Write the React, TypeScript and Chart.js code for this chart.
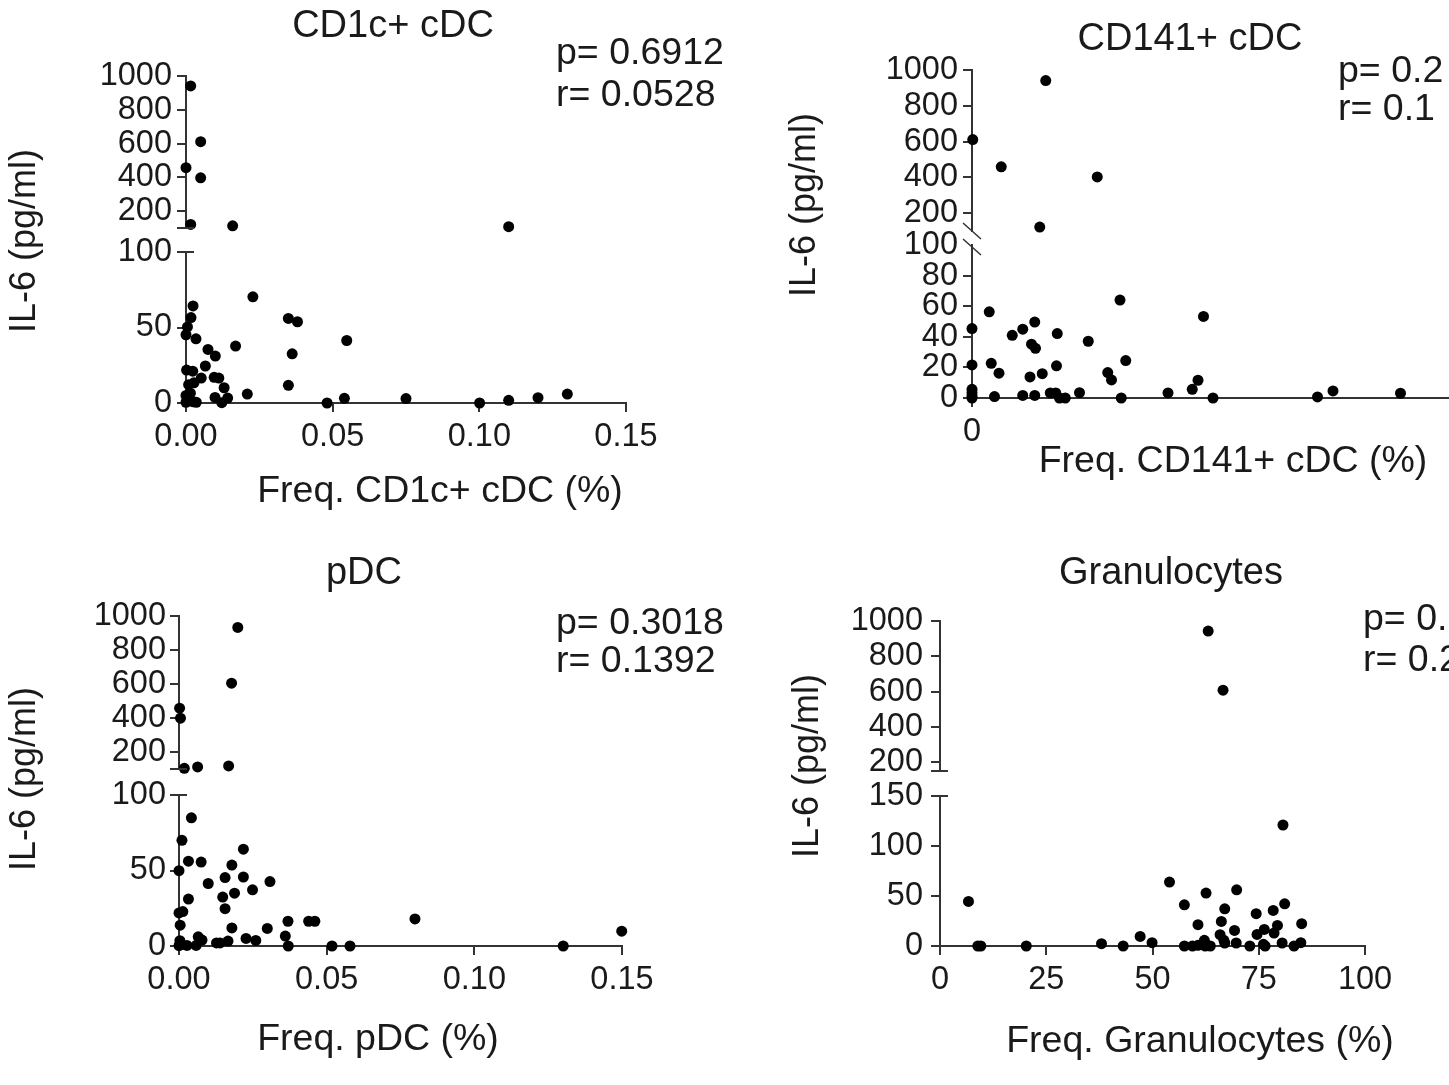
import React, { useEffect, useRef } from 'react';
import { Chart, registerables } from 'chart.js';

Chart.register(...registerables);

const FONT = "'Liberation Sans', Arial, Helvetica, sans-serif";
const INK = '#1a1a1a';
const AXIS = '#333333';

// ---------------- DATA ----------------
// Panel 1: CD1c+ cDC
const cd1cX = [0.0016, 0.005, 0, 0.005, 0.0016, 0.0159, 0.11,
  0.0024, 0.0017, 0.0005, 0, 0.0034, 0.0075, 0.01, 0.0169, 0.0228, 0.0349,
  0.038, 0.0362, 0.0349, 0.0548, 0.0066, 0.0002, 0.0023, 0.0052, 0.0096, 0.0112,
  0.013, 0.0009, 0.0027, 0.0099, 0.0122, 0.0142, 0.0209, 0, 0.0008, 0.0025,
  0.0035, 0, 0.0015, 0.0481, 0.054, 0.075, 0.1001, 0.11, 0.12, 0.13];
const cd1cY = [941, 611, 457, 397, 121, 113, 108,
  64.3, 56.6, 50.4, 45.2, 42.5, 35.5, 31.1, 37.7, 70.3, 56,
  53.8, 32.6, 11.7, 41.4, 24.5, 21.8, 21.1, 16.5, 17, 16.5,
  10.1, 12.1, 13.4, 3.7, 0.2, 3.3, 5.9, 5, 3, 0.8,
  0.5, 0.5, 6.5, 0, 3.1, 2.9, 0, 1.8, 3.5, 5.9];
const cd1cStats = ['p= 0.6912', 'r= 0.0528'];

// Panel 2: CD141+ cDC
const cd141X = [0.00295, 0.00003, 0.00117, 0.00501, 0.00271,
  0, 0, 0, 0, 0, 0, 0.00069, 0.00077, 0.00108, 0.0009,
  0.00161, 0.00203, 0.00251, 0.00238, 0.00254, 0.00232, 0.00281, 0.00203, 0.00251, 0.00341,
  0.00338, 0.00313, 0.00335, 0.0035, 0.00373, 0.0043, 0.00465, 0.00543, 0.00558, 0.00592,
  0.00615, 0.00597, 0.00632, 0.00784, 0.00881, 0.00904, 0.00926, 0.00964, 0.01382, 0.01444,
  0.01714];
const cd141Y = [941, 611, 459, 402, 122,
  45.4, 21.6, 5.7, 3.5, 1.3, 0, 56.3, 22.7, 16.2, 0.9,
  41, 45, 49.6, 35.2, 32.5, 13.8, 15.9, 1.7, 1.7, 42.1,
  21, 3.3, 3.3, 0, 0, 3.5, 37.1, 16.6, 11.8, 64,
  24.5, 0, -9.6, 3.3, 5.7, 11.6, 53.3, 0, 0.7, 4.6,
  3.1];
const cd141Stats = ['p= 0.2', 'r= 0.1'];

// Panel 3: pDC
const pdcX = [0.0199, 0.0178, 0.0002, 0.0005, 0.0018, 0.0063, 0.0168,
  0.0042, 0.001, 0.0032, 0.0075, 0, 0.0179, 0.0218, 0.0156, 0.0218, 0.0308,
  0.0099, 0.0249, 0.0188, 0.0148, 0.0032, 0.0156, 0, 0.0013, 0.0004, 0.0179,
  0.0299, 0.0369, 0.0439, 0.046, 0.036, 0.037, 0.0227, 0.026, 0.0166, 0.0127,
  0.0139, 0.0065, 0.0078, 0.0058, 0.0027, 0.0003, 0.0008, 0, 0.0518, 0.0579,
  0.0799, 0.1301, 0.1499];
const pdcY = [933, 605, 458, 399, 104, 112, 118,
  84.9, 70, 56.2, 55.6, 49.9, 53.6, 64.1, 45.3, 45.7, 42.7,
  41.4, 37.2, 35, 32.4, 31.1, 24.7, 21.9, 22.8, 13.8, 12,
  11.6, 16.4, 16.4, 16.4, 6.6, 0, 5, 3.7, 3.3, 2,
  2, 6.1, 3.9, 0.4, 0.4, 3.5, 1, 0.2, 0, 0,
  17.9, 0, 9.8];
const pdcStats = ['p= 0.3018', 'r= 0.1392'];

// Panel 4: Granulocytes
const granX = [63.1, 66.6,
  6.7, 8.9, 9.6, 20.3, 38, 43.1, 47.1, 49.9, 54, 57.5,
  57.5, 59.4, 60.7, 60.7, 62.2, 62.6, 62.4, 63.6, 66.2, 65.9,
  67, 66.8, 67, 69.3, 69.8, 69.7, 72.9, 74.4, 74.6, 76.3,
  76.1, 76.5, 78.4, 78.6, 79.4, 80.7, 81.1, 80.5, 83.3, 84.9,
  85.1];
const granY = [943, 608,
  44.6, 0, 0, 0, 2.3, 0, 9.6, 3.3, 63.9, 41.2,
  0, 0, 21.3, 0.7, 5.7, 52.9, 0, 0, 24.6, 11.3,
  37.2, 5.7, 3, 15.6, 56.2, 3, 0, 32.3, 11.6, 16.6,
  1.7, 0, 35.6, 13, 20.6, 121, 42.2, 3, 0, 3.3,
  22.3];
const granStats = ['p= 0.1', 'r= 0.2'];

// Tick lists
const highTicks = [100, 200, 400, 600, 800, 1000];
const highTicksGran = [150, 200, 400, 600, 800, 1000];
const highTicksSlash = [200, 400, 600, 800, 1000];
const highLabels = [200, 400, 600, 800, 1000];
const lowTicks100 = [0, 50, 100];
const lowTicks20 = [0, 20, 40, 60, 80, 100];
const lowTicks150 = [0, 50, 100, 150];
const freqTicks = [0, 0.05, 0.1, 0.15];
const freqLabels = ['0.00', '0.05', '0.10', '0.15'];
const cd141Ticks = [0, 0.025];
const cd141Labels = ['0', ''];
const granTicks = [0, 25, 50, 75, 100];
const granTickLabels = ['0', '25', '50', '75', '100'];

// ---------------- PANEL SPECS (layout) ----------------
type Seg = { min: number; max: number; ticks: number[]; labels: number[]; hideTick?: number[] };
type Spec = {
  canvas: { x: number; y: number; w: number; h: number };
  area: { left: number; right: number; top: number; bottom: number };
  weights: [number, number, number];
  high: Seg; low: Seg;
  x: { min: number; max: number; ticks: number[]; labels: string[] };
  xs: number[]; ys: number[];
  title: string; titlePos: [number, number];
  stats: string[]; statsPos: [number, number, number];
  xTitle: string; xTitlePos: [number, number];
  yTitlePos: [number, number];
  brk: 'cap' | 'slash';
  yTickPad: number;
};

const specs: Spec[] = [
  {
    canvas: { x: 0, y: 0, w: 724, h: 542 },
    area: { left: 186, right: 626, top: 76, bottom: 403 },
    weights: [152, 24, 151],
    high: { min: 100, max: 1000, ticks: highTicks, labels: highLabels },
    low: { min: 0, max: 100, ticks: lowTicks100, labels: lowTicks100 },
    x: { min: 0, max: 0.15, ticks: freqTicks, labels: freqLabels },
    xs: cd1cX, ys: cd1cY,
    title: 'CD1c+ cDC', titlePos: [393, 27],
    stats: cd1cStats, statsPos: [556, 54, 96],
    xTitle: 'Freq. CD1c+ cDC (%)', xTitlePos: [440, 492],
    yTitlePos: [25, 241],
    brk: 'cap', yTickPad: 5,
  },
  {
    canvas: { x: 724, y: 0, w: 1000, h: 542 },
    area: { left: 972, right: 1597, top: 70, bottom: 398 },
    weights: [161, 14, 153],
    high: { min: 100, max: 1000, ticks: highTicksSlash, labels: highLabels },
    low: { min: 0, max: 100, ticks: lowTicks20, labels: lowTicks20, hideTick: [100] },
    x: { min: 0, max: 0.025, ticks: cd141Ticks, labels: cd141Labels },
    xs: cd141X, ys: cd141Y,
    title: 'CD141+ cDC', titlePos: [1190, 40],
    stats: cd141Stats, statsPos: [1338, 72, 110],
    xTitle: 'Freq. CD141+ cDC (%)', xTitlePos: [1233, 462],
    yTitlePos: [805, 205],
    brk: 'slash', yTickPad: 5,
  },
  {
    canvas: { x: 0, y: 542, w: 724, h: 543 },
    area: { left: 179, right: 622, top: 616, bottom: 946 },
    weights: [153, 26, 151],
    high: { min: 100, max: 1000, ticks: highTicks, labels: highLabels },
    low: { min: 0, max: 100, ticks: lowTicks100, labels: lowTicks100 },
    x: { min: 0, max: 0.15, ticks: freqTicks, labels: freqLabels },
    xs: pdcX, ys: pdcY,
    title: 'pDC', titlePos: [364, 574],
    stats: pdcStats, statsPos: [556, 624, 662],
    xTitle: 'Freq. pDC (%)', xTitlePos: [378, 1040],
    yTitlePos: [25, 779],
    brk: 'cap', yTickPad: 4,
  },
  {
    canvas: { x: 724, y: 542, w: 725, h: 543 },
    area: { left: 940, right: 1365, top: 621, bottom: 946 },
    weights: [150, 25, 150],
    high: { min: 150, max: 1000, ticks: highTicksGran, labels: highLabels },
    low: { min: 0, max: 150, ticks: lowTicks150, labels: lowTicks150 },
    x: { min: 0, max: 100, ticks: granTicks, labels: granTickLabels },
    xs: granX, ys: granY,
    title: 'Granulocytes', titlePos: [1171, 574],
    stats: granStats, statsPos: [1363, 620, 661],
    xTitle: 'Freq. Granulocytes (%)', xTitlePos: [1200, 1042],
    yTitlePos: [808, 766],
    brk: 'cap', yTickPad: 8,
  },
];

const WY = 130;
const HX = 60;
const TICK_FONT = 32.5;

function buildConfig(s: Spec): any {
  const lowPts: { x: number; y: number }[] = [];
  const highPts: { x: number; y: number }[] = [];
  s.xs.forEach((x, i) => {
    const y = s.ys[i];
    (y > s.low.max ? highPts : lowPts).push({ x, y });
  });
  const ox = s.canvas.x;
  const oy = s.canvas.y;

  const yScale = (seg: Seg, weight: number) => ({
    type: 'linear',
    position: 'left',
    stack: 'y',
    stackWeight: weight,
    min: seg.min,
    max: seg.max,
    afterBuildTicks: (sc: any) => { sc.ticks = seg.ticks.map((v) => ({ value: v })); },
    afterFit: (sc: any) => { sc.width = WY; },
    ticks: {
      autoSkip: false,
      padding: s.yTickPad,
      color: INK,
      font: { family: FONT, size: TICK_FONT },
      callback: (v: number) => (seg.labels.includes(v) ? String(v) : ''),
    },
    grid: {
      drawOnChartArea: false,
      drawTicks: true,
      tickLength: 9,
      lineWidth: 2,
      color: AXIS,
      tickColor: (c: any) => (seg.hideTick && c.tick && seg.hideTick.includes(c.tick.value) ? 'rgba(0,0,0,0)' : AXIS),
    },
    border: { display: true, color: AXIS, width: 2 },
  });

  const overlay = {
    id: 'overlay' + ox + '_' + oy,
    afterDraw(chart: any) {
      const ctx = chart.ctx as CanvasRenderingContext2D;
      ctx.save();
      ctx.fillStyle = INK;
      ctx.textBaseline = 'middle';
      // title
      ctx.font = `38px ${FONT}`;
      ctx.textAlign = 'center';
      ctx.fillText(s.title, s.titlePos[0] - ox, s.titlePos[1] - oy);
      // x title
      ctx.font = `37.5px ${FONT}`;
      ctx.fillText(s.xTitle, s.xTitlePos[0] - ox, s.xTitlePos[1] - oy);
      // y title
      ctx.font = `36px ${FONT}`;
      ctx.save();
      ctx.translate(s.yTitlePos[0] - ox, s.yTitlePos[1] - oy);
      ctx.rotate(-Math.PI / 2);
      ctx.fillText('IL-6 (pg/ml)', 0, 0);
      ctx.restore();
      // stats
      ctx.font = `37.5px ${FONT}`;
      ctx.textAlign = 'left';
      ctx.fillText(s.stats[0], s.statsPos[0] - ox, s.statsPos[1] - oy);
      ctx.fillText(s.stats[1], s.statsPos[0] - ox, s.statsPos[2] - oy);
      // axis breaks
      const ax = chart.chartArea.left;
      const yb = chart.scales.yHigh.getPixelForValue(s.high.min);
      const yt = chart.scales.yLow.getPixelForValue(s.low.max);
      ctx.strokeStyle = AXIS;
      ctx.lineWidth = 2;
      ctx.beginPath();
      if (s.brk === 'cap') {
        ctx.moveTo(ax, yb); ctx.lineTo(ax + 8, yb);
        ctx.moveTo(ax, yt); ctx.lineTo(ax + 8, yt);
      } else {
        ctx.lineWidth = 1.5;
        ctx.moveTo(ax - 9, yb - 8); ctx.lineTo(ax + 9, yb + 8);
        ctx.moveTo(ax - 9, yt - 6); ctx.lineTo(ax + 9, yt + 10);
      }
      ctx.stroke();
      ctx.restore();
    },
  };

  const pr = (c: any) => (c.raw && c.raw.y < 0 ? 3.5 : 5.5);

  return {
    type: 'scatter',
    data: {
      datasets: [
        { data: lowPts, xAxisID: 'x', yAxisID: 'yLow', backgroundColor: '#000', borderWidth: 0, pointRadius: pr, pointHoverRadius: pr, clip: false },
        { data: highPts, xAxisID: 'x', yAxisID: 'yHigh', backgroundColor: '#000', borderWidth: 0, pointRadius: pr, pointHoverRadius: pr, clip: false },
      ],
    },
    options: {
      responsive: false,
      maintainAspectRatio: false,
      devicePixelRatio: 1,
      animation: false,
      events: [],
      layout: {
        padding: {
          left: s.area.left - ox - WY,
          top: s.area.top - oy,
          right: ox + s.canvas.w - s.area.right,
          bottom: oy + s.canvas.h - s.area.bottom - HX,
        },
      },
      plugins: { legend: { display: false }, tooltip: { enabled: false }, title: { display: false } },
      scales: {
        x: {
          type: 'linear',
          position: 'bottom',
          min: s.x.min,
          max: s.x.max,
          afterBuildTicks: (sc: any) => { sc.ticks = s.x.ticks.map((v) => ({ value: v })); },
          afterFit: (sc: any) => { sc.height = HX; },
          ticks: {
            autoSkip: false,
            maxRotation: 0,
            padding: 6,
            color: INK,
            font: { family: FONT, size: TICK_FONT },
            callback: (_v: number, i: number) => s.x.labels[i],
          },
          grid: { drawOnChartArea: false, drawTicks: true, tickLength: 9, lineWidth: 2, color: AXIS },
          border: { display: true, color: AXIS, width: 2 },
        },
        yLow: yScale(s.low, s.weights[2]),
        yGap: { type: 'linear', position: 'left', stack: 'y', stackWeight: s.weights[1], display: false },
        yHigh: yScale(s.high, s.weights[0]),
      },
    },
    plugins: [overlay],
  };
}

function Panel({ spec }: { spec: Spec }) {
  const ref = useRef<HTMLCanvasElement>(null);
  useEffect(() => {
    if (!ref.current) return;
    const chart = new Chart(ref.current, buildConfig(spec));
    return () => chart.destroy();
  }, [spec]);
  return (
    <canvas
      ref={ref}
      width={spec.canvas.w}
      height={spec.canvas.h}
      style={{ position: 'absolute', left: spec.canvas.x, top: spec.canvas.y, width: spec.canvas.w, height: spec.canvas.h }}
    />
  );
}

export default function App() {
  return (
    <div style={{ position: 'absolute', left: 0, top: 0, width: 1449, height: 1085, overflow: 'hidden', background: '#fff' }}>
      {specs.map((s, i) => (
        <Panel key={i} spec={s} />
      ))}
    </div>
  );
}
